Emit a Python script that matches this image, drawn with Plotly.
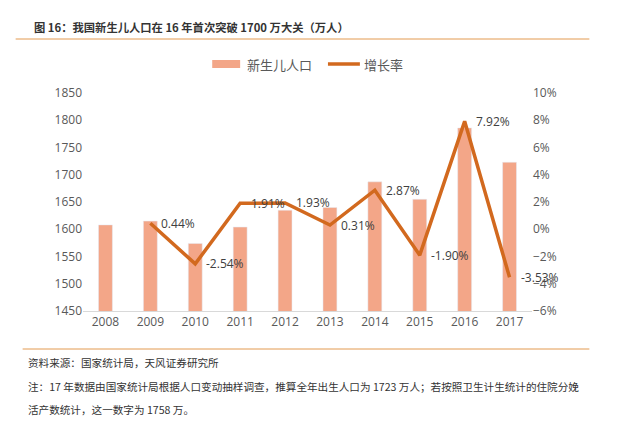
import plotly.graph_objects as go

years = ["2008", "2009", "2010", "2011", "2012", "2013", "2014", "2015", "2016", "2017"]
births = [1608, 1615, 1574, 1604, 1635, 1640, 1687, 1655, 1786, 1723]
growth_years = ["2009", "2010", "2011", "2012", "2013", "2014", "2015", "2016", "2017"]
growth = [0.44, -2.54, 1.91, 1.93, 0.31, 2.87, -1.90, 7.92, -3.53]
growth_labels = ["0.44%", "-2.54%", "1.91%", "1.93%", "0.31%", "2.87%", "-1.90%", "7.92%", "-3.53%"]

W, H = 628, 426
L, R, T, B = 82.5, 532.5, 93, 311
BAR_C = "#F3A688"
LINE_C = "#D2691E"
CJK = "Noto Sans CJK SC"
NUM = "Open Sans, Noto Sans, sans-serif"

def px(x):
    return (x - L) / (R - L)

def py(y):
    return (B - y) / (B - T)

fig = go.Figure()
fig.add_trace(go.Bar(x=years, y=births, marker_color=BAR_C, width=0.31,
                     name="新生儿人口", showlegend=False))
fig.add_trace(go.Scatter(x=growth_years, y=growth, yaxis="y2", mode="lines",
                         line=dict(color=LINE_C, width=3.5), name="增长率",
                         showlegend=False))

ann = []
for xv, yv, t in zip(growth_years, growth, growth_labels):
    ann.append(dict(x=years.index(xv), y=yv, xref="x", yref="y2", text=t, showarrow=False,
                    xanchor="left", yanchor="middle", xshift=9,
                    font=dict(family=NUM, size=12, color="#404040")))

# title and footnotes
ann.append(dict(x=px(31), y=py(27), xref="paper", yref="paper", xanchor="left", yanchor="middle",
                text="<b>图 16：我国新生儿人口在 16 年首次突破 1700 万大关（万人）</b>", showarrow=False,
                font=dict(family=CJK, size=11.3, color="#333333")))
ann.append(dict(x=px(25), y=py(362), xref="paper", yref="paper", xanchor="left", yanchor="middle",
                text="资料来源：国家统计局，天风证券研究所", showarrow=False,
                font=dict(family=CJK, size=10.6, color="#333333")))
ann.append(dict(x=px(25), y=py(386), xref="paper", yref="paper", xanchor="left", yanchor="middle",
                text="注：17 年数据由国家统计局根据人口变动抽样调查，推算全年出生人口为 1723 万人；若按照卫生计生统计的住院分娩",
                showarrow=False, font=dict(family=CJK, size=10.6, color="#333333")))
ann.append(dict(x=px(25), y=py(409), xref="paper", yref="paper", xanchor="left", yanchor="middle",
                text="活产数统计，这一数字为 1758 万。", showarrow=False,
                font=dict(family=CJK, size=10.6, color="#333333")))
# legend texts
ann.append(dict(x=px(245), y=py(64), xref="paper", yref="paper", xanchor="left", yanchor="middle",
                text="新生儿人口", showarrow=False, font=dict(family=CJK, size=13, color="#595959")))
ann.append(dict(x=px(362), y=py(64), xref="paper", yref="paper", xanchor="left", yanchor="middle",
                text="增长率", showarrow=False, font=dict(family=CJK, size=13, color="#595959")))

shapes = [
    dict(type="line", xref="paper", yref="paper", x0=px(15), x1=px(590), y0=py(39), y1=py(39),
         line=dict(color="#E39A50", width=1)),
    dict(type="line", xref="paper", yref="paper", x0=px(22), x1=px(590), y0=py(349), y1=py(349),
         line=dict(color="#E39A50", width=1)),
    dict(type="rect", xref="paper", yref="paper", x0=px(212), x1=px(240), y0=py(60), y1=py(68),
         fillcolor=BAR_C, line=dict(width=0)),
    dict(type="line", xref="paper", yref="paper", x0=px(328), x1=px(360), y0=py(64), y1=py(64),
         line=dict(color=LINE_C, width=3.5)),
]

fig.update_layout(
    width=W, height=H,
    margin=dict(l=L, r=W - R, t=T, b=H - B),
    paper_bgcolor="white", plot_bgcolor="white",
    showlegend=False,
    xaxis=dict(type="category", range=[-0.5, len(years) - 0.5], autorange=False,
               showgrid=False, showline=True, linecolor="#D9D9D9", linewidth=1,
               ticks="", tickfont=dict(family=NUM, size=12, color="#595959")),
    yaxis=dict(range=[1450, 1850], dtick=50, showgrid=False, zeroline=False, showline=False,
               ticks="", tickfont=dict(family=NUM, size=12, color="#595959")),
    yaxis2=dict(range=[-6, 10], dtick=2, overlaying="y", side="right", showgrid=False,
                zeroline=False, showline=False, ticksuffix="%", ticks="",
                tickfont=dict(family=NUM, size=12, color="#595959")),
    annotations=ann,
    shapes=shapes,
)

fig.write_html("out.html", config={"displayModeBar": False},
               post_script="document.body.style.margin='0px';")
